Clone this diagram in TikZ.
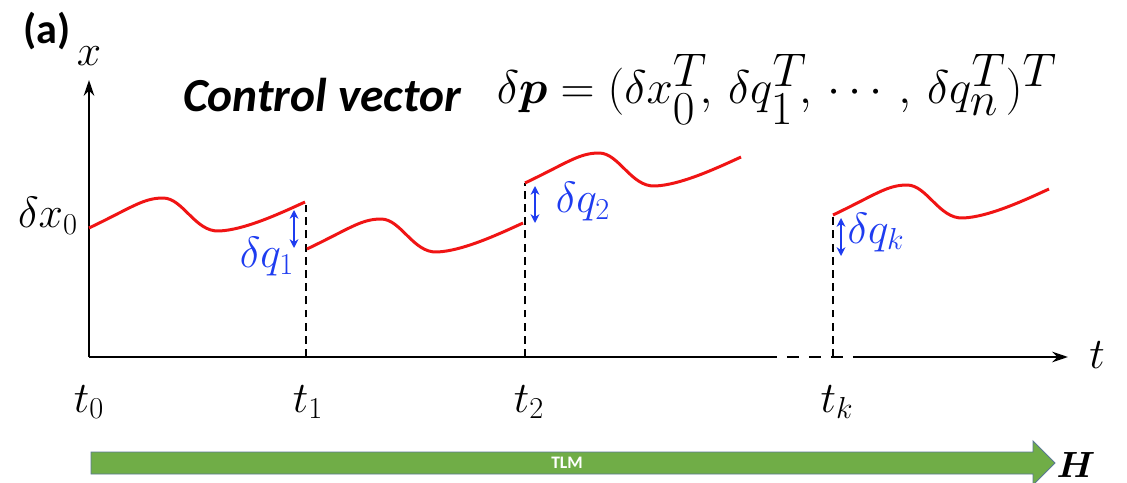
\documentclass[tikz,border=0pt]{standalone}
\usepackage{graphicx}
\usepackage{amsmath,bm}
\usepackage{fontspec}
\newfontfamily\carlito{Carlito}
\usetikzlibrary{arrows.meta}
\definecolor{cred}{RGB}{240,20,20}
\definecolor{cblue}{RGB}{30,60,240}
\definecolor{cgreen}{RGB}{112,173,71}
\definecolor{cgborder}{RGB}{90,120,150}
\tikzset{
  axis/.style={line width=1.6pt,-{Stealth[length=9pt,width=6pt]}},
  guide/.style={line width=1.1pt,dash pattern=on 4.5pt off 3pt},
  trace/.style={cred,line width=1.7pt},
  jump/.style={cblue,line width=1.2pt,{Stealth[length=5pt,width=5pt]}-{Stealth[length=5pt,width=5pt]}},
  mlab/.style={inner sep=0pt,anchor=base,font=\fontsize{24}{28}\selectfont},
  qlab/.style={inner sep=0pt,anchor=base,text=cblue,font=\fontsize{24}{28}\selectfont},
}
\newcommand{\segshape}{.. controls ++(42,-20) and ++(-20,0) .. ++(74,-30) .. controls ++(20,0) and ++(-24,1) .. ++(56,33) .. controls ++(25,-1) and ++(-26,12) .. ++(86,-29)}
\begin{document}
\begin{tikzpicture}[x=0.02cm,y=-0.02cm]
\useasboundingbox (0,0) rectangle (1127,483);
% axes
\coordinate (O) at (89,357);
\coordinate (ytop) at (89,80);
\coordinate (xend) at (1068,357);
\coordinate (brk1) at (765,357);
\coordinate (brk2) at (860,357);
\draw[line width=1.6pt] (O) -- (brk1);
\draw[line width=1.6pt,dash pattern=on 7pt off 5.5pt] (brk1) -- (brk2);
\draw[axis] (brk2) -- (xend);
\draw[axis] (O) -- (ytop);
% guides
\coordinate (g1b) at (306,357); \coordinate (g1t) at (306,205);
\coordinate (g2b) at (525,357); \coordinate (g2t) at (525,183);
\coordinate (gkb) at (833,357); \coordinate (gkt) at (833,217);
\draw[guide] (g1b) -- (g1t);
\draw[guide] (g2b) -- (g2t);
\draw[guide] (gkb) -- (gkt);
% red traces
\coordinate (s1) at (89,228);
\coordinate (s2) at (307,249);
\coordinate (s3) at (525,183);
\coordinate (s4) at (833,215);
\draw[trace] (s1) \segshape;
\draw[trace] (s2) \segshape;
\draw[trace] (s3) \segshape;
\draw[trace] (s4) \segshape;
% jumps
\coordinate (j1a) at (294,210); \coordinate (j1b) at (294,248);
\coordinate (j2a) at (535,186); \coordinate (j2b) at (535,223);
\coordinate (jka) at (841,218); \coordinate (jkb) at (841,256);
\draw[jump] (j1a) -- (j1b);
\draw[jump] (j2a) -- (j2b);
\draw[jump] (jka) -- (jkb);
\node[qlab] (q1) at (267,268) {$\delta q_1$};
\node[qlab] (q2) at (583,213) {$\delta q_2$};
\node[qlab] (qk) at (876,243) {$\delta q_k$};
% labels
\node[mlab] (lx) at (89,66) {$x$};
\node[mlab] (lx0) at (48,228) {$\delta x_0$};
\node[mlab] (lt) at (1097,368) {$t$};
\node[mlab] (t0) at (89,412) {$t_0$};
\node[mlab] (t1) at (308,412) {$t_1$};
\node[mlab] (t2) at (529,412) {$t_2$};
\node[mlab] (tk) at (837,412) {$t_k$};
\node[inner sep=0pt,font=\carlito\bfseries\fontsize{24}{28}\selectfont] (a) at (47,31) {(a)};
\node[inner sep=0pt,anchor=base,font=\carlito\bfseries\itshape\fontsize{27}{32}\selectfont] (cv) at (322,112) {Control vector};
\node[inner sep=0pt,anchor=base,font=\fontsize{35}{40}\selectfont] (eq) at (777,104) {\scalebox{1.08}{$\delta\bm{p}=(\delta x_0^T\!,\,\delta q_1^T\!,\,\cdots,\,\delta q_n^T)^T$}};
% green arrow
\fill[cgreen,draw=cgborder,line width=0.5pt] (91,452) -- (1033,452) -- (1033,441) -- (1055,463) -- (1033,485) -- (1033,474) -- (91,474) -- cycle;
\node[inner sep=0pt,text=white,font=\carlito\bfseries\fontsize{10}{12}\selectfont] (tlm) at (567,463) {TLM};
\node[inner sep=0pt,font=\fontsize{22}{26}\selectfont] (H) at (1076,465) {$\bm{H}$};
\end{tikzpicture}
\end{document}
